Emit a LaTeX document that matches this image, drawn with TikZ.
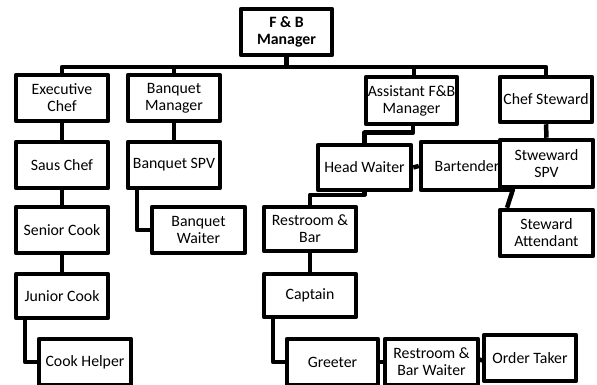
\documentclass[tikz,border=0pt]{standalone}
\usepackage{fontspec}
\setmainfont{Carlito}
\begin{document}
\begin{tikzpicture}[x=1pt,y=-1pt,
  box/.style={draw=black, line width=4.5pt, fill=white, line join=round,
    minimum width=92pt, minimum height=46pt, inner sep=0pt, align=center,
    font=\fontsize{15.8}{17}\selectfont},
  conn/.style={draw=black, line width=4.5pt, line join=round}]
\useasboundingbox (0,0) rectangle (597,385);
% nodes
\node[box, minimum width=91pt, font=\fontsize{15.8}{17}\selectfont\bfseries] (fb) at (286.5,32) {F \& B\\Manager};
\node[box] (ec) at (62,98) {Executive\\Chef};
\node[box] (bm) at (174,98) {Banquet\\Manager};
\node[box] (saus) at (62,165) {Saus Chef};
\node[box] (bspv) at (174,165) {Banquet SPV};
\node[box, minimum width=91pt, minimum height=47pt] (afb) at (411.5,100.5) {Assistant F\&B\\Manager};
\node[box, minimum height=45pt] (cs) at (546,99.5) {Chef Steward};
\node[box, minimum width=93pt, minimum height=45pt] (hw) at (364.5,167.5) {Head Waiter};
\node[box, minimum height=48pt] (bt) at (467,166) {Bartender};
\node[box, minimum width=93pt, minimum height=47pt] (sspv) at (546.5,163.5) {Stweward\\SPV};
\node[box, minimum width=93pt] (sa) at (546.5,233) {Steward\\Attendant};
\node[box] (senior) at (62,230) {Senior Cook};
\node[box, minimum height=44pt] (junior) at (62,296) {Junior Cook};
\node[box] (helper) at (85,362) {Cook Helper};
\node[box, minimum width=93pt] (bw) at (198.5,230) {Banquet\\Waiter};
\node[box, minimum height=44pt] (rb) at (310,229) {Restroom \&\\Bar};
\node[box, minimum height=43pt] (cap) at (310,295.5) {Captain};
\node[box, minimum width=91pt] (gr) at (332.5,362) {Greeter};
\node[box, minimum width=93pt] (rbw) at (431.5,362) {Restroom \&\\Bar Waiter};
\node[box] (ot) at (530,358) {Order Taker};
% connectors
\coordinate (bus) at (0,67);
\draw[conn] (ec.north) -- (ec.north |- bus) -- (cs.north |- bus) -- (cs.north);
\draw[conn] (bm.north) -- (bm.north |- bus);
\draw[conn] ([xshift=2.5pt]afb.north) -- ([xshift=2.5pt]afb.north |- bus);
\draw[conn] (fb.south) -- (fb.south |- bus);
\draw[conn] (ec) -- (saus);
\draw[conn] (saus) -- (senior);
\draw[conn] (senior) -- (junior);
\draw[conn] ([xshift=-37pt]junior.south) |- (helper.west);
\draw[conn] (bm) -- (bspv);
\draw[conn] ([xshift=-37pt]bspv.south) |- (bw.west);
\draw[conn] (cs) -- (sspv);
\draw[conn] ([xshift=-33.5pt]sspv.south) -- ([xshift=-39.5pt]sa.north);
\draw[conn] ([xshift=1.5pt]afb.south) |- ([yshift=10pt]hw.north) -- (hw.north);
\draw[conn] (hw.east) -- (bt.west);
\draw[conn] (hw.south) |- ([yshift=10pt]rb.north) -- (rb.north);
\draw[conn] (rb) -- (cap);
\draw[conn] ([xshift=-37pt]cap.south) |- (gr.west);
\draw[conn] (gr.east) -- (rbw.west);
\draw[conn] (rbw.east) -- (ot.west);
\end{tikzpicture}
\end{document}
